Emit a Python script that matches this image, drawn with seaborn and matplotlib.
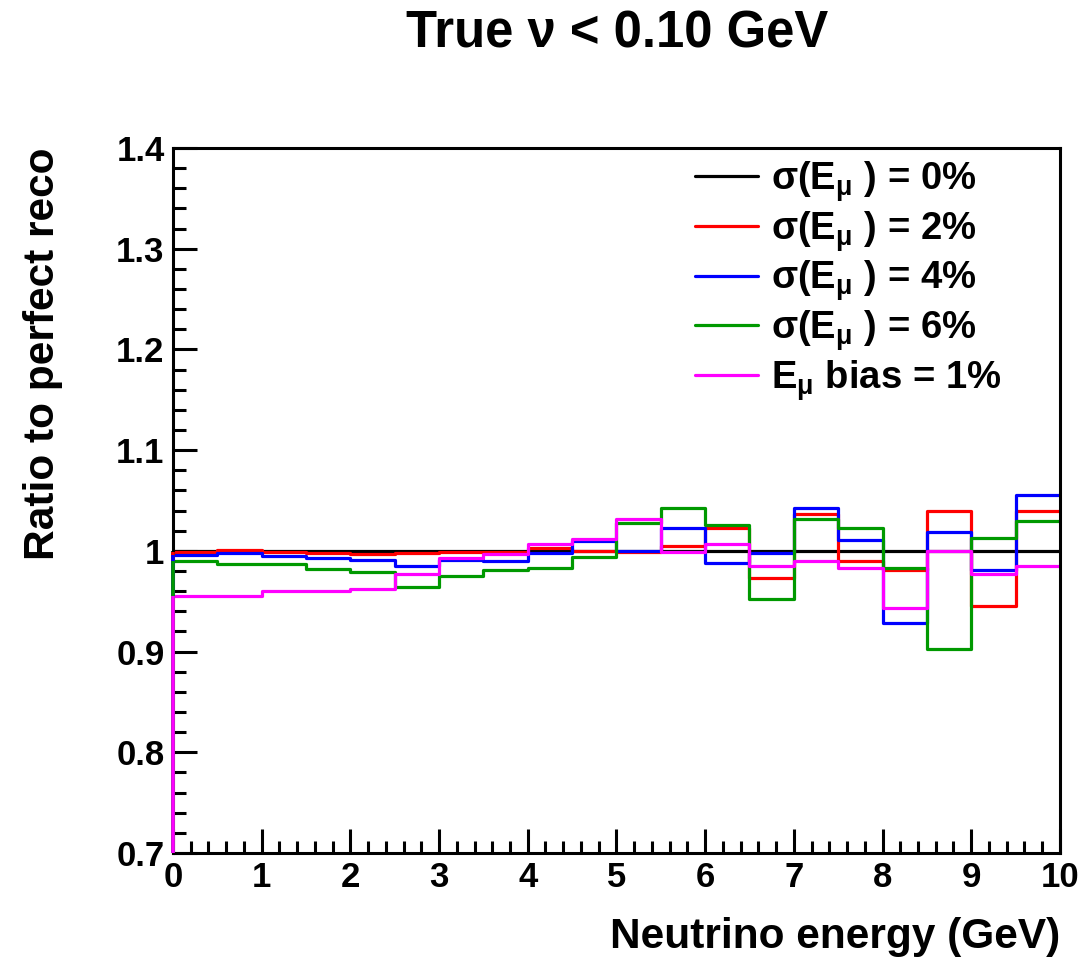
import numpy as np
import matplotlib
matplotlib.use("Agg")
import matplotlib.pyplot as plt
import pandas as pd
import seaborn as sns
from matplotlib.lines import Line2D
from matplotlib.ticker import MultipleLocator, FuncFormatter

# bin edges (GeV) and ratio per bin
edges = np.arange(0, 10.01, 0.5)
centres = (edges[:-1] + edges[1:]) / 2

sigma0 = [1.000] * 20
sigma2 = [0.9987, 1.001, 0.999, 0.998, 0.9967, 0.9983, 0.9993, 0.999, 1.0027, 1.000,
          0.9993, 1.005, 1.0225, 0.973, 1.0364, 0.990, 0.981, 1.040, 0.945, 1.040]
sigma4 = [0.996, 0.998, 0.995, 0.9927, 0.991, 0.9854, 0.991, 0.990, 0.998, 1.010,
          1.000, 1.023, 0.988, 0.998, 1.0424, 1.011, 0.928, 1.019, 0.981, 1.055]
sigma6 = [0.990, 0.987, 0.987, 0.982, 0.979, 0.964, 0.975, 0.981, 0.983, 0.9937,
          1.028, 1.043, 1.026, 0.952, 1.0315, 1.023, 0.983, 0.9027, 1.0126, 1.030]
bias1 = [0.9556, 0.9556, 0.9606, 0.9606, 0.9623, 0.977, 0.993, 0.997, 1.0066, 1.012,
         1.0315, 0.9993, 1.0066, 0.9854, 0.9904, 0.9834, 0.943, 1.000, 0.977, 0.9854]

labels = [r"σ(E$_{\mu}$ ) = 0%", r"σ(E$_{\mu}$ ) = 2%", r"σ(E$_{\mu}$ ) = 4%",
          r"σ(E$_{\mu}$ ) = 6%", r"E$_{\mu}$ bias = 1%"]
colours = ["black", "#ff0000", "#0000ff", "#009900", "#ff00ff"]
series = [sigma0, sigma2, sigma4, sigma6, bias1]

ymin, ymax = 0.7, 1.4

sns.set_theme(style="ticks")
plt.rcParams['font.family'] = ['Liberation Sans', 'DejaVu Sans']
plt.rcParams['font.weight'] = 'bold'
plt.rcParams['text.color'] = 'black'
plt.rcParams['axes.labelcolor'] = 'black'
plt.rcParams['mathtext.fontset'] = 'custom'
plt.rcParams['mathtext.rm'] = 'Liberation Sans:bold'
plt.rcParams['mathtext.it'] = 'Liberation Sans:bold'
plt.rcParams['mathtext.bf'] = 'Liberation Sans:bold'

fig = plt.figure(figsize=(10.85, 9.59), dpi=100)
ax = fig.add_axes([0.1594, 0.1105, 0.8175, 0.7352])

for i, (vals, col) in enumerate(zip(series, colours)):
    df = pd.DataFrame({'E': centres, 'ratio': vals})
    sns.histplot(data=df, x='E', weights='ratio', binwidth=0.5,
                 binrange=(edges[0], edges[-1]), element='step',
                 fill=False, color=col, linewidth=2.3, ax=ax)
    # ROOT-style drop from the frame bottom at the first edge
    ax.plot([edges[0], edges[0]], [ymin, vals[0]], color=col, linewidth=2.6,
            solid_capstyle='butt', clip_on=False, zorder=3 + i)

ax.set_xlim(edges[0], edges[-1])
ax.set_ylim(ymin, ymax)

ax.xaxis.set_major_locator(MultipleLocator(1))
ax.xaxis.set_minor_locator(MultipleLocator(0.2))
ax.yaxis.set_major_locator(MultipleLocator(0.1))
ax.yaxis.set_minor_locator(MultipleLocator(0.02))
ax.yaxis.set_major_formatter(FuncFormatter(lambda v, p: f"{v:.1f}".rstrip('0').rstrip('.')))

ax.tick_params(which='both', direction='in', top=False, right=False, width=2.2,
               labelsize=25, colors='black')
ax.tick_params(which='major', length=17, pad=6)
ax.tick_params(which='minor', length=9)
for s in ax.spines.values():
    s.set_linewidth(2.2)
    s.set_color('black')
    s.set_visible(True)

ax.set_xlabel("Neutrino energy (GeV)", fontsize=30.5, fontweight='bold', loc='right',
              labelpad=16)
ax.set_ylabel("Ratio to perfect reco", fontsize=30.5, fontweight='bold', loc='top',
              labelpad=38)
fig.text(617 / 1085, 1 - 34 / 959, "True ν < 0.10 GeV", fontsize=36.5,
         fontweight='bold', ha='center', va='center')

handles = [Line2D([0], [0], color=c, linewidth=2.3) for c in colours]
ax.legend(handles, labels, loc='upper left', bbox_to_anchor=(0.576, 1.0),
          frameon=False, fontsize=27.5, handlelength=1.65, handletextpad=0.34,
          labelspacing=0.13, borderaxespad=0.15, borderpad=0.15)

fig.savefig("out.png", dpi=100)
